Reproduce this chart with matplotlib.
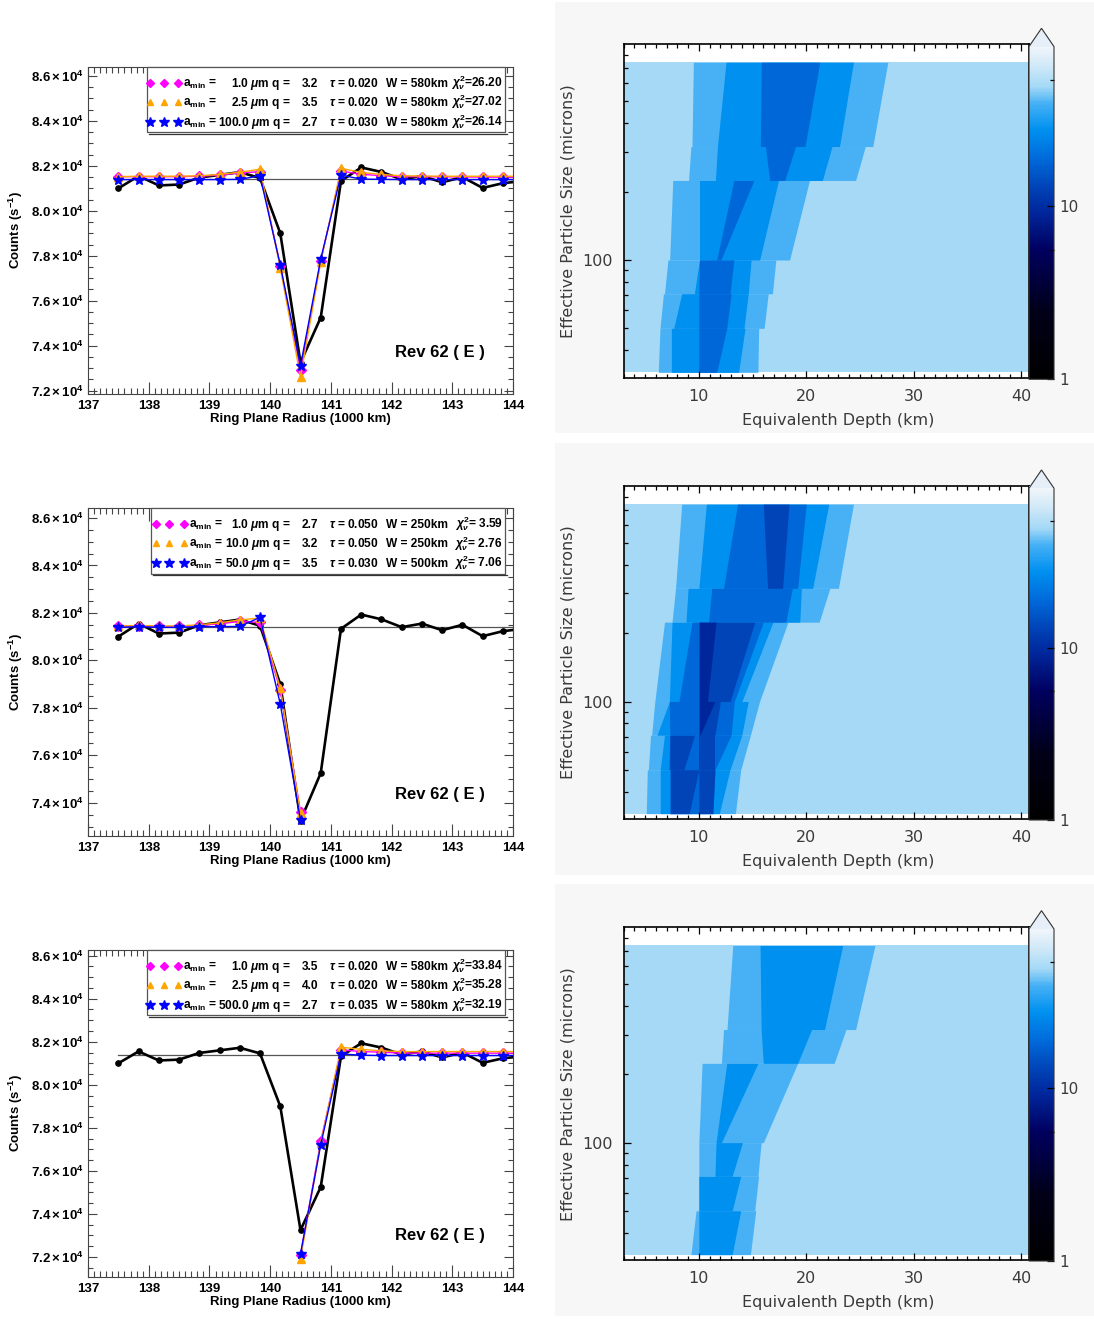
import numpy as np
import matplotlib
matplotlib.use("Agg")
import matplotlib.pyplot as plt
from matplotlib.colors import LinearSegmentedColormap, LogNorm
from matplotlib.cm import ScalarMappable
from matplotlib.patches import Rectangle
import matplotlib.ticker as mticker

# ---------------------------------------------------------------- data
radius = [137.5, 137.833, 138.167, 138.5, 138.833, 139.167, 139.5, 139.833,
          140.167, 140.5, 140.833, 141.167, 141.5, 141.833, 142.167, 142.5,
          142.833, 143.167, 143.5, 143.833, 144.167]
observed = [81000, 81550, 81130, 81170, 81480, 81600, 81720, 81460, 79000,
            73250, 75250, 81330, 81930, 81730, 81400, 81550, 81270, 81500,
            81020, 81230, 81330]
baseline = 81400

# panel 1 models (full radius range)
pink1 = [81520, 81520, 81520, 81520, 81540, 81590, 81690, 81740, 77560, 72900,
         77770, 81770, 81630, 81560, 81520, 81520, 81510, 81510, 81500, 81500, 81500]
orange1 = [81520, 81540, 81540, 81540, 81560, 81620, 81720, 81850, 77450, 72610,
           77710, 81890, 81710, 81620, 81560, 81550, 81540, 81540, 81540, 81540, 81540]
blue1 = [81390, 81390, 81390, 81390, 81390, 81390, 81400, 81560, 77590, 73110,
         77850, 81590, 81410, 81400, 81390, 81390, 81390, 81390, 81390, 81390, 81390]
# panel 2 models (137.5 .. 140.5)
pink2 = [81430, 81460, 81430, 81430, 81470, 81540, 81640, 81600, 78755, 73620]
orange2 = [81440, 81470, 81450, 81450, 81500, 81580, 81710, 81780, 78825, 73550]
blue2 = [81390, 81420, 81390, 81390, 81420, 81420, 81430, 81810, 78160, 73270]
# panel 3 models (140.5 .. 144.167)
pink3 = [72110, 77370, 81620, 81545, 81515, 81470, 81470, 81470, 81470, 81470, 81470, 81470]
orange3 = [71907, 77290, 81746, 81650, 81576, 81545, 81545, 81545, 81545, 81545, 81545, 81545]
blue3 = [72140, 77210, 81436, 81374, 81360, 81360, 81360, 81360, 81360, 81360, 81360, 81360]

# legend parameters
amin1 = [1.0, 2.5, 100.0]; q1 = [3.2, 3.5, 2.7]; tau1 = [0.020, 0.020, 0.030]
wid1 = [580, 580, 580]; chi1 = [26.20, 27.02, 26.14]
amin2 = [1.0, 10.0, 50.0]; q2 = [2.7, 3.2, 3.5]; tau2 = [0.050, 0.050, 0.030]
wid2 = [250, 250, 500]; chi2 = [3.59, 2.76, 7.06]
amin3 = [1.0, 2.5, 500.0]; q3 = [3.5, 4.0, 2.7]; tau3 = [0.020, 0.020, 0.035]
wid3 = [580, 580, 580]; chi3 = [33.84, 35.28, 32.19]

# chi^2 maps: size rows (microns), depth range (km), contour levels
size_edges = [32, 50, 71, 100, 224, 316, 743]
depth_range = [3.0, 40.7]
levels = [49.3, 39.5, 27.7, 18.6, 13.1, 9.2]
# (level, row, left_bottom, left_top, right_bottom, right_top)
bands1 = [
    (1, 5, 9.36, 9.49, 26.2, 27.6), (2, 5, 11.73, 12.53, 23.1, 24.4), (3, 5, 15.73, 15.82, 19.89, 21.26),
    (1, 4, 9.04, 9.26, 24.6, 25.5), (2, 4, 11.54, 11.73, 21.5, 22.4), (3, 4, 16.6, 16.2, 18.0, 19.0),
    (1, 3, 7.28, 7.57, 18.45, 20.3), (2, 3, 10.06, 10.06, 15.66, 17.42), (3, 3, 11.66, 13.26, 12.05, 15.12),
    (1, 2, 6.8, 7.12, 16.85, 17.17), (2, 2, 9.58, 10.06, 14.6, 14.86), (3, 2, 10.0, 10.06, 12.9, 13.26),
    (1, 1, 6.38, 6.7, 16.08, 16.46), (2, 1, 7.66, 8.4, 14.2, 14.6), (3, 1, 10.0, 10.0, 12.6, 13.0),
    (1, 0, 6.22, 6.38, 15.5, 15.57), (2, 0, 7.44, 7.44, 13.7, 14.3), (3, 0, 10.0, 10.0, 11.66, 12.6),
]
bands2 = [
    (1, 5, 7.83, 8.4, 23.0, 24.4), (2, 5, 10.0, 10.7, 20.6, 22.1), (3, 5, 12.3, 13.6, 19.2, 20.0),
    (4, 5, 16.4, 16.0, 17.8, 18.4),
    (1, 4, 7.5, 7.83, 21.2, 22.2), (2, 4, 8.8, 9.0, 19.4, 19.55), (3, 4, 10.9, 11.2, 18.1, 18.7),
    (1, 3, 5.9, 6.8, 15.65, 18.3), (2, 3, 7.25, 7.5, 14.0, 16.9), (3, 3, 8.15, 9.36, 13.3, 16.0),
    (4, 3, 10.0, 10.0, 12.9, 15.2), (5, 3, 10.05, 10.05, 10.8, 11.6),
    (1, 2, 5.6, 5.9, 14.8, 15.65), (2, 2, 6.1, 7.25, 14.0, 14.6), (3, 2, 7.3, 7.25, 13.0, 13.3),
    (4, 2, 10.0, 10.0, 11.5, 12.0), (5, 2, 10.05, 10.05, 10.1, 11.5),
    (1, 1, 5.3, 5.5, 13.9, 14.8), (2, 1, 6.4, 6.8, 12.9, 14.0), (3, 1, 7.2, 7.3, 11.5, 13.0),
    (4, 1, 7.3, 7.3, 8.6, 9.6), (4, 1, 10.0, 10.0, 11.5, 11.5),
    (1, 0, 5.1, 5.2, 13.4, 13.9), (2, 0, 6.4, 6.4, 11.9, 12.9), (3, 0, 7.3, 7.3, 11.3, 11.5),
    (4, 0, 7.35, 7.35, 9.1, 10.0), (4, 0, 10.0, 10.0, 11.3, 11.5),
]
bands3 = [
    (1, 5, 12.62, 13.16, 24.6, 26.4), (2, 5, 15.8, 15.7, 21.7, 23.4),
    (1, 4, 12.1, 12.3, 22.6, 23.7), (2, 4, 16.0, 15.8, 19.2, 20.5),
    (1, 3, 10.0, 10.3, 16.0, 19.2), (2, 3, 11.6, 12.6, 12.1, 15.5),
    (1, 2, 10.0, 10.0, 15.5, 15.8), (2, 2, 11.5, 11.6, 13.1, 14.06),
    (1, 1, 10.0, 10.0, 15.2, 15.56), (2, 1, 10.0, 10.0, 13.1, 13.9),
    (1, 0, 9.26, 9.74, 14.8, 15.3), (2, 0, 10.0, 10.0, 13.1, 13.9),
]

# ---------------------------------------------------------------- style
plt.rcParams['font.family'] = ['Liberation Sans', 'DejaVu Sans']
plt.rcParams['mathtext.fontset'] = 'custom'
plt.rcParams['mathtext.rm'] = 'Liberation Sans:bold'
plt.rcParams['mathtext.bf'] = 'Liberation Sans:bold'
plt.rcParams['mathtext.it'] = 'Liberation Sans:italic:bold'
plt.rcParams['mathtext.sf'] = 'Liberation Sans:bold'
plt.rcParams['mathtext.fallback'] = 'stixsans'

cmap = LinearSegmentedColormap.from_list('idlblue', [
    (0.00, '#000000'), (0.20, '#000018'), (0.39, '#000060'), (0.50, '#00259A'),
    (0.58, '#0044B8'), (0.66, '#0068D8'), (0.75, '#0090F0'), (0.83, '#45B0F5'),
    (0.88, '#A3D8F6'), (0.95, '#D4EAF8'), (1.00, '#F0F5FA')], N=256)
cmap.set_over('#E6EFF7')
norm = LogNorm(vmin=1, vmax=84)

W, H = 1094, 1319
fig = plt.figure(figsize=(W / 100, H / 100), dpi=100)
fig.patch.set_facecolor('white')


def rect(x0, y0, x1, y1):
    return [x0 / W, 1 - y1 / H, (x1 - x0) / W, (y1 - y0) / H]


for (y0, y1) in [(2, 433), (443, 875), (884, 1316)]:
    fig.patches.append(Rectangle((555 / W, 1 - y1 / H), (W - 555) / W, (y1 - y0) / H,
                                 transform=fig.transFigure, facecolor='#F7F7F7',
                                 edgecolor='none', zorder=-10))

MAG, ORA, BLU = '#FF00FF', '#FFA500', '#0000FF'
LEGFS = 8.6


def left_panel(box, ylim, x_mod, models, leg, box_x0, mark_x):
    ax = fig.add_axes(rect(*box))
    ax.plot(radius, observed, color='black', lw=1.9, marker='o', ms=3.8, zorder=3, clip_on=True)
    ax.plot([radius[0], 144.5], [baseline, baseline], color='#555555', lw=0.9, zorder=2)
    styles = [(MAG, 'D', 4.8), (ORA, '^', 5.5), (BLU, '*', 7.5)]
    for vals, (c, m, ms) in zip(models, styles):
        ax.plot(x_mod, vals, color=c, lw=1.0, marker=m, ms=ms, mec=c, zorder=4)
    ax.set_xlim(137, 144)
    ax.set_ylim(*ylim)
    ax.xaxis.set_major_locator(mticker.MultipleLocator(1))
    ax.xaxis.set_minor_locator(mticker.MultipleLocator(0.1))
    ax.yaxis.set_major_locator(mticker.MultipleLocator(2000))
    ax.yaxis.set_minor_locator(mticker.MultipleLocator(500))
    ax.xaxis.set_major_formatter(mticker.FuncFormatter(lambda v, p: f"{v:.0f}"))
    ax.yaxis.set_major_formatter(mticker.FuncFormatter(
        lambda v, p: r"$\mathbf{%.1f\times10^{4}}$" % (v / 1e4)))
    ax.tick_params(which='both', direction='in', top=True, right=True,
                   color='#444444', width=0.8, labelsize=9.5)
    ax.tick_params(axis='x', which='major', length=9, pad=4)
    ax.tick_params(axis='x', which='minor', length=4.5)
    ax.tick_params(axis='y', which='major', length=6.5, pad=3)
    ax.tick_params(axis='y', which='minor', length=3.5)
    for lab in ax.get_xticklabels() + ax.get_yticklabels():
        lab.set_fontweight('bold')
    for s in ax.spines.values():
        s.set_color('#444444'); s.set_linewidth(0.8)
    ax.set_xlabel('Ring Plane Radius (1000 km)', fontsize=9.5, fontweight='bold')
    ax.xaxis.set_label_coords(0.5, -0.058)
    ax.set_ylabel(r'Counts (s$^{-1}$)', fontsize=9.5, fontweight='bold')
    ax.yaxis.set_label_coords(-0.148, 0.5)
    # legend box
    ax.add_patch(Rectangle((box_x0, 0.80), 0.982 - box_x0, 0.20, transform=ax.transAxes,
                           facecolor='white', edgecolor='#555555', lw=0.9, zorder=6, clip_on=False))
    ax.plot([box_x0 + 0.004, 0.986], [0.795, 0.795], transform=ax.transAxes, color='#333333',
            lw=0.9, zorder=6, clip_on=False)
    ys = [0.952, 0.893, 0.833]
    amin, q, tau, wid, chi = leg
    tx = dict(transform=ax.transAxes, fontsize=LEGFS, fontweight='bold', va='baseline', zorder=8)
    x_a = mark_x[-1] + 0.012
    for i, (c, m, ms) in enumerate(styles):
        ax.plot(mark_x, [ys[i]] * 3, transform=ax.transAxes, ls='none', marker=m, ms=ms - 0.5,
                color=c, mec=c, zorder=7, clip_on=False)
        y = ys[i] - 0.012
        ax.text(x_a, y, r"a$_{\mathbf{min}}$ =", ha='left', **tx)
        ax.text(0.478, y, f"{amin[i]:.1f}" + r" $\mu$m q =", ha='right', **tx)
        ax.text(0.542, y, f"{q[i]:.1f}", ha='right', **tx)
        ax.text(0.566, y, r"$\tau$ = " + f"{tau[i]:.3f}", ha='left', **tx)
        ax.text(0.700, y, f"W = {wid[i]}km", ha='left', **tx)
        ax.text(0.976, y, r"$\chi^2_\nu$=" + f"{chi[i]:5.2f}", ha='right', **tx)
    ax.text(0.722, 0.127, 'Rev 62 ( E )', transform=ax.transAxes, fontsize=12,
            fontweight='bold', va='center', ha='left')
    return ax


left_panel((88, 67, 513, 394), (71850, 86400), radius, [pink1, orange1, blue1],
           (amin1, q1, tau1, wid1, chi1), 0.139, [0.145, 0.179, 0.212])
left_panel((88, 508, 513, 836), (72600, 86420), radius[:10], [pink2, orange2, blue2],
           (amin2, q2, tau2, wid2, chi2), 0.148, [0.159, 0.191, 0.226])
left_panel((88, 950, 513, 1277), (71070, 86263), radius[9:], [pink3, orange3, blue3],
           (amin3, q3, tau3, wid3, chi3), 0.139, [0.145, 0.179, 0.212])

RFONT = dict(family='DejaVu Sans', color='#3a3a3a')


def right_panel(box, cbox, bands):
    ax = fig.add_axes(rect(*box))
    ax.set_facecolor('white')
    ax.set_yscale('log')
    ax.fill_betweenx([size_edges[0], size_edges[-1]], depth_range[0], depth_range[1],
                     color=cmap(norm(levels[0])), lw=0, antialiased=False)
    for lev in range(1, len(levels)):
        col = cmap(norm(levels[lev]))
        for (L, r, lb, lt, rb, rt) in bands:
            if L != lev:
                continue
            ax.fill_betweenx([size_edges[r], size_edges[r + 1]], [lb, lt], [rb, rt],
                             color=col, lw=0, antialiased=False)
    ax.set_xlim(3.0, 40.75)
    ax.set_ylim(30.3, 894)
    ax.xaxis.set_major_locator(mticker.MultipleLocator(10))
    ax.xaxis.set_minor_locator(mticker.MultipleLocator(1))
    ax.yaxis.set_major_locator(mticker.FixedLocator([100]))
    ax.yaxis.set_minor_locator(mticker.LogLocator(base=10, subs=range(2, 10)))
    ax.yaxis.set_major_formatter(mticker.FuncFormatter(lambda v, p: f"{v:g}"))
    ax.yaxis.set_minor_formatter(mticker.NullFormatter())
    ax.tick_params(which='both', direction='in', top=True, right=False, color='black',
                   width=0.9, labelsize=11.5, labelcolor='#3a3a3a', pad=8)
    ax.tick_params(which='major', length=5)
    ax.tick_params(which='minor', length=2.6)
    for lab in ax.get_xticklabels() + ax.get_yticklabels():
        lab.set_family('DejaVu Sans')
    for s in ax.spines.values():
        s.set_linewidth(1.2); s.set_color('black')
    ax.set_xlabel('Equivalenth Depth (km)', fontsize=11.5, **RFONT)
    ax.xaxis.set_label_coords(0.53, -0.106)
    ax.set_ylabel('Effective Particle Size (microns)', fontsize=11.5, **RFONT)
    ax.yaxis.set_label_coords(-0.12, 0.5)

    cax = fig.add_axes(rect(*cbox))
    sm = ScalarMappable(norm=norm, cmap=cmap)
    cb = fig.colorbar(sm, cax=cax, extend='max', extendfrac=0.055)
    cb.set_ticks([1, 10], labels=['1', '10'])
    cb.set_ticks([5.6, 54], minor=True)
    cb.ax.tick_params(which='both', direction='in', right=True, left=False, color='black',
                      width=0.9, labelsize=11, labelcolor='#3a3a3a', pad=4)
    cb.ax.tick_params(which='major', length=5)
    cb.ax.tick_params(which='minor', length=3)
    for lab in cb.ax.get_yticklabels():
        lab.set_family('DejaVu Sans')
    cb.outline.set_edgecolor('#333333')
    cb.outline.set_linewidth(0.8)
    return ax


right_panel((623.7, 44, 1029, 377.7), (1029, 28.3, 1054, 379.3), bands1)
right_panel((623.7, 486, 1029, 819), (1029, 470, 1054, 820), bands2)
right_panel((623.7, 927.3, 1029, 1260), (1029, 910.7, 1054, 1261), bands3)

fig.savefig('out.png', dpi=100, facecolor='white')
